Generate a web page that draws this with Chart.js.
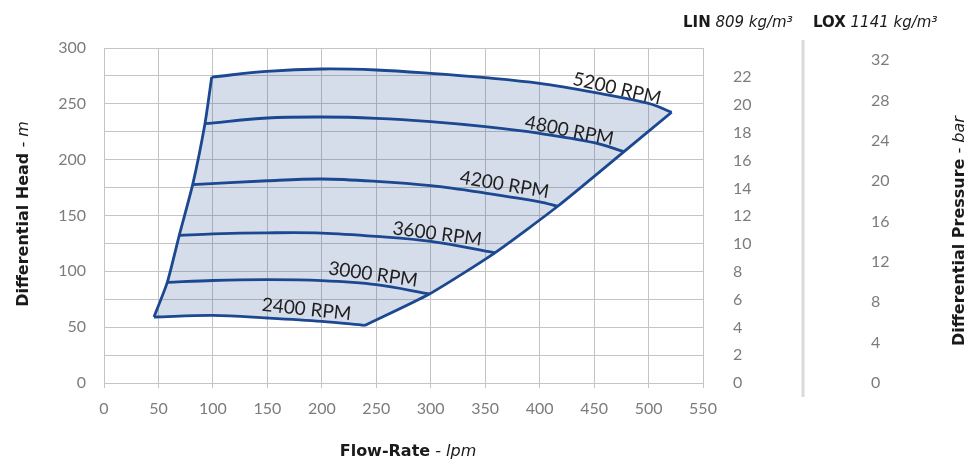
<!DOCTYPE html>
<html>
<head>
<meta charset="utf-8">
<script src="https://cdn.jsdelivr.net/npm/chart.js@4/dist/chart.umd.min.js"></script>
<style>
  html, body { margin: 0; padding: 0; background: #fff; }
  #wrap { width: 966px; height: 459px; }
</style>
</head>
<body>
<div id="wrap"><canvas id="pumpChart" width="966" height="459"></canvas></div>
<script>
// curves: flow (lpm) / head (m)
const rpmNames = ['2400 RPM', '3000 RPM', '3600 RPM', '4200 RPM', '4800 RPM', '5200 RPM'];

const flow2400 = [45.9, 100, 150, 200, 239.6];
const head2400 = [59.1, 60.5, 58.2, 55.2, 51.6];

const flow3000 = [58.1, 100, 150, 200, 250, 298.7];
const head3000 = [90.1, 91.8, 92.5, 91.6, 88.0, 79.7];

const flow3600 = [69.1, 100, 150, 200, 250, 300, 358.9];
const head3600 = [132.2, 133.6, 134.5, 134.3, 131.3, 126.8, 116.6];

const flow4200 = [81.4, 150, 200, 250, 300, 350, 400, 416.6];
const head4200 = [177.6, 181.1, 182.7, 180.6, 176.7, 170.1, 162.3, 158.3];

const flow4800 = [92.7, 150, 200, 250, 300, 350, 400, 450, 477.5];
const head4800 = [232.2, 237.3, 238.2, 237.0, 234.0, 229.5, 223.5, 215.2, 207.2];

const flow5200 = [98.9, 149.4, 200, 250, 300, 350, 400, 450, 500, 521.2];
const head5200 = [274.0, 279.0, 281.2, 280.3, 277.3, 273.4, 268.3, 260.2, 250.4, 242.5];

// tick lists
const flowTicksMax = 550;
const headTicksMax = 300;
const linTicks = [0, 2, 4, 6, 8, 10, 12, 14, 16, 18, 20, 22];
const loxTicks = [0, 4, 8, 12, 16, 20, 24, 28, 32];
const linMax = 24.1;   // bar at 300 m
const loxMax = 33.2;   // bar at 300 m

// where the rpm names sit (data units) and their tilt
const labelPlace = [
  { x: 186, y: 65.9, rot: 6 },
  { x: 247, y: 97.3, rot: 8 },
  { x: 306, y: 133.5, rot: 7.5 },
  { x: 367.7, y: 177.6, rot: 9.5 },
  { x: 427.3, y: 226, rot: 11 },
  { x: 471, y: 263.5, rot: 13 }
];

const pts = (f, h) => f.map((x, i) => ({ x: x, y: h[i] }));
const curves = [
  pts(flow2400, head2400), pts(flow3000, head3000), pts(flow3600, head3600),
  pts(flow4200, head4200), pts(flow4800, head4800), pts(flow5200, head5200)
];
const mids = curves.slice(1, 5);
const leftEdge = curves.map(c => c[0]);
const rightEdge = curves.map(c => c[c.length - 1]);
const envelope = [].concat(
  curves[0],
  mids.map(c => c[c.length - 1]),
  curves[5].slice().reverse(),
  mids.map(c => c[0]).reverse()
);

const BLUE = '#1c4791';
const GRID = '#c4c4c4';
const TICK = '#7c7c7c';

const lineDs = (data, tension) => ({
  data: data,
  showLine: true,
  borderColor: BLUE,
  borderWidth: 2.8,
  pointRadius: 0,
  tension: tension,
  fill: false,
  order: 1
});

const datasets = [{
  data: envelope,
  showLine: true,
  borderWidth: 0,
  borderColor: 'rgba(0,0,0,0)',
  backgroundColor: 'rgba(38,72,145,0.19)',
  pointRadius: 0,
  tension: 0,
  fill: 'shape',
  order: 5
}];
curves.forEach(c => datasets.push(lineDs(c, 0.35)));
datasets.push(lineDs(leftEdge, 0.2));
datasets.push(lineDs(rightEdge, 0.2));

function runs(ctx, parts, x, y, align) {
  // parts: [text, font]
  let total = 0;
  parts.forEach(p => { ctx.font = p[1]; total += ctx.measureText(p[0]).width; });
  let cx = align === 'center' ? x - total / 2 : x;
  ctx.textAlign = 'left';
  parts.forEach(p => {
    ctx.font = p[1];
    ctx.fillText(p[0], cx, y);
    cx += ctx.measureText(p[0]).width;
  });
}

const decor = {
  id: 'decor',
  afterDatasetsDraw(chart) {
    const ctx = chart.ctx;
    const xs = chart.scales.x, ys = chart.scales.y;
    ctx.save();
    ctx.fillStyle = '#1f1f1f';
    ctx.font = '19px Lato';
    ctx.textAlign = 'center';
    ctx.textBaseline = 'middle';
    labelPlace.forEach((p, i) => {
      ctx.save();
      ctx.translate(xs.getPixelForValue(p.x), ys.getPixelForValue(p.y));
      ctx.rotate(p.rot * Math.PI / 180);
      ctx.fillText(rpmNames[i], 0, 0);
      ctx.restore();
    });
    ctx.restore();
  },
  afterDraw(chart) {
    const ctx = chart.ctx;
    const area = chart.chartArea;
    const lox = chart.scales.yLox;
    ctx.save();
    // separator between the two pressure scales
    const sepX = lox.left - 60;
    ctx.strokeStyle = '#dadada';
    ctx.lineWidth = 3;
    ctx.beginPath();
    ctx.moveTo(sepX, area.top - 8);
    ctx.lineTo(sepX, area.bottom + 14);
    ctx.stroke();

    ctx.fillStyle = '#1a1a1a';
    ctx.textBaseline = 'alphabetic';
    const B = 'bold 16px "DejaVu Sans"';
    const I = 'italic 16px "DejaVu Sans"';
    // x title
    runs(ctx, [['Flow-Rate', B], [' - ', I], ['lpm', I]], 408, 456, 'center');
    // left title
    ctx.save();
    ctx.translate(28, 214);
    ctx.rotate(-Math.PI / 2);
    runs(ctx, [['Differential Head', B], [' - ', I], ['m', I]], 0, 0, 'center');
    ctx.restore();
    // right title
    ctx.save();
    ctx.translate(964, 231);
    ctx.rotate(-Math.PI / 2);
    runs(ctx, [['Differential Pressure', B], [' - ', I], ['bar', I]], 0, 0, 'center');
    ctx.restore();
    // density headers
    const HB = 'bold 15px "DejaVu Sans"';
    const HI = 'italic 15px "DejaVu Sans"';
    runs(ctx, [['LIN', HB], [' 809 kg/m\u00B3', HI]], 683, 27, 'left');
    runs(ctx, [['LOX', HB], [' 1141 kg/m\u00B3', HI]], 813, 27, 'left');
    ctx.restore();
  }
};

const tickFont = { family: 'Lato', size: 16 };

new Chart(document.getElementById('pumpChart'), {
  type: 'scatter',
  data: { datasets: datasets },
  plugins: [decor],
  options: {
    responsive: false,
    animation: false,
    layout: { padding: { top: 48, left: 0, right: 0, bottom: 0 } },
    plugins: { legend: { display: false }, tooltip: { enabled: false } },
    scales: {
      x: {
        type: 'linear', min: 0, max: flowTicksMax,
        ticks: { stepSize: 50, color: TICK, font: tickFont, padding: 11 },
        grid: { color: GRID, tickLength: 5, drawTicks: true },
        border: { color: GRID },
        afterFit: s => { s.height = 76; }
      },
      y: {
        type: 'linear', min: 0, max: headTicksMax, position: 'left',
        ticks: { stepSize: 25, color: TICK, font: tickFont, padding: 18,
          callback: v => (v % 50 === 0 ? v : '') },
        grid: { color: GRID, drawTicks: false },
        border: { color: GRID },
        afterFit: s => { s.width = 104; }
      },
      yLin: {
        type: 'linear', min: 0, max: linMax, position: 'right', weight: 0,
        afterBuildTicks: s => { s.ticks = linTicks.map(v => ({ value: v })); },
        ticks: { color: TICK, font: tickFont, padding: 22 },
        grid: { display: false },
        border: { display: false },
        afterFit: s => { s.width = 160; }
      },
      yLox: {
        type: 'linear', min: 0, max: loxMax, position: 'right', weight: 1,
        afterBuildTicks: s => { s.ticks = loxTicks.map(v => ({ value: v })); },
        ticks: { color: TICK, font: tickFont, padding: 0 },
        grid: { display: false },
        border: { display: false },
        afterFit: s => { s.width = 103; }
      }
    }
  }
});
</script>
</body>
</html>
